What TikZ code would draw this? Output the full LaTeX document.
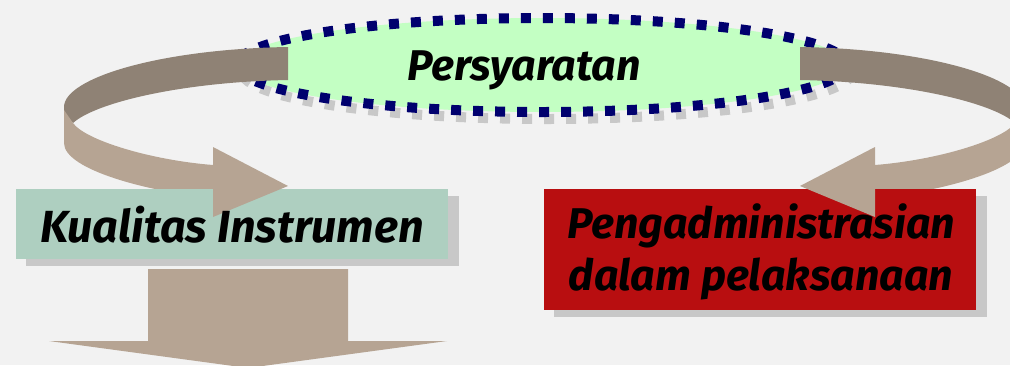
\documentclass[tikz,border=0pt]{standalone}
\usepackage{fontspec}
\setmainfont{Fira Sans}
\usetikzlibrary{shapes.geometric}
\definecolor{bg}{HTML}{F2F2F2}
\definecolor{banddark}{HTML}{8F8275}
\definecolor{bandlight}{HTML}{B6A493}
\definecolor{ellfill}{HTML}{C3FFC3}
\definecolor{navydot}{HTML}{00006E}
\definecolor{shadowgray}{HTML}{C8C8C8}
\definecolor{mint}{HTML}{AECFC0}
\definecolor{boxred}{HTML}{B80E10}
\tikzset{
  lbl/.style={font=\fontsize{43}{52}\selectfont\bfseries\itshape, text=black, inner sep=0pt},
  lblbig/.style={font=\fontsize{45}{52}\selectfont\bfseries\itshape, text=black, inner sep=0pt},
  dotline/.style={line width=10pt, dash pattern=on 10pt off 12pt},
  banddk/.style={fill=banddark, draw=none},
  bandlt/.style={fill=bandlight, draw=none},
}
\newcommand{\curvedarrow}{%
  \fill[banddk] (288,47) .. controls (160,49) and (64,78) .. (64,107) -- (64,112) -- (73,123)
     .. controls (95,103) and (180,82) .. (288,80) -- cycle;
  \fill[bandlt] (64,110) -- (64,143) .. controls (64,170) and (150,192) .. (213,198)
     -- (213,165) .. controls (150,160) and (85,140) .. (73,123) -- cycle;
  \fill[bandlt] (213,147) -- (288,186) -- (213,217) -- cycle;
}
\begin{document}
\begin{tikzpicture}[x=1pt,y=-1pt]
\useasboundingbox (0,0) rectangle (1010,365);
\fill[bg] (0,0) rectangle (1010,365);
% ellipse shadow and ellipse
\draw[shadowgray, dotline] (547,72) ellipse [x radius=305, y radius=47];
\node[ellipse, minimum width=610pt, minimum height=94pt, fill=ellfill, inner sep=0pt] (ell) at (542,65) {};
\draw[navydot, dotline] (542,65) ellipse [x radius=305, y radius=47];
% curved arrows
\curvedarrow
\begin{scope}[shift={(1088,0)}, xscale=-1]
\curvedarrow
\end{scope}
% boxes
\fill[shadowgray] (26,196) rectangle (459,266);
\node[fill=mint, minimum width=432pt, minimum height=70pt, inner sep=0pt] (kual) at (232,224) {};
\fill[shadowgray] (554,196) rectangle (987,317);
\node[fill=boxred, minimum width=432pt, minimum height=121pt, inner sep=0pt] (peng) at (760,249.5) {};
% arrowheads over boxes
\begin{scope}
\clip (0,189) rectangle (1010,260);
\fill[bandlt] (213,147) -- (288,186) -- (213,217) -- cycle;
\fill[bandlt] (875,147) -- (800,186) -- (875,217) -- cycle;
\end{scope}
% down arrow
\fill[bandlt] (148,269) -- (348,269) -- (348,341) -- (447,341) -- (248,368) -- (49,341) -- (148,341) -- cycle;
% texts
\node[lbl, anchor=base] (tp) at (524,80) {Persyaratan};
\node[lblbig, anchor=base] (tk) at (232,242) {Kualitas Instrumen};
\node[lbl, anchor=base] (tr1) at (761,238) {Pengadministrasian};
\node[lbl, anchor=base] (tr2) at (761,290) {dalam pelaksanaan};
\end{tikzpicture}
\end{document}
